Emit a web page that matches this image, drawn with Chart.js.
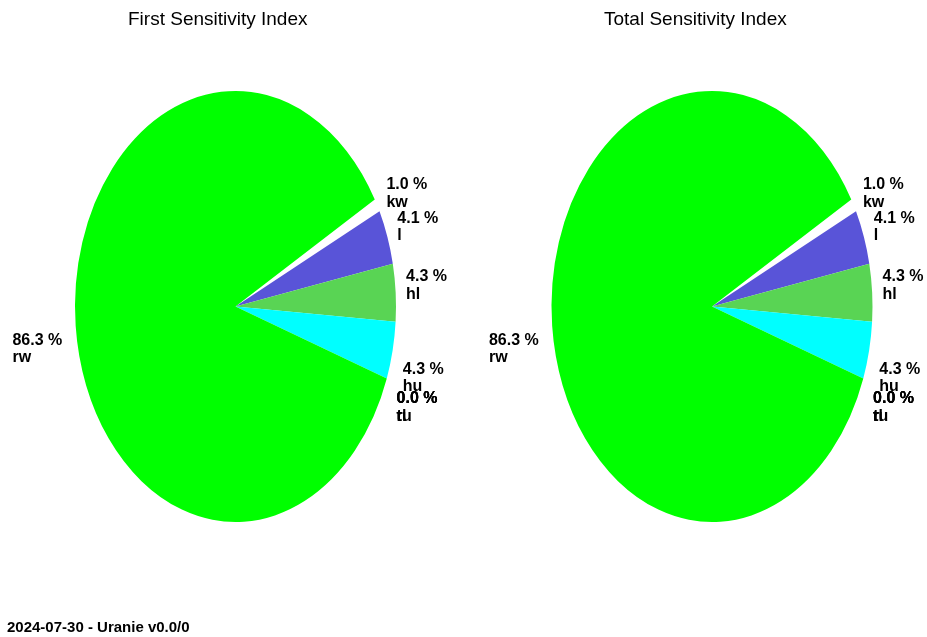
<!DOCTYPE html>
<html>
<head>
<meta charset="utf-8">
<script src="https://cdn.jsdelivr.net/npm/chart.js@4.4.1/dist/chart.umd.min.js"></script>
<style>
  body { margin: 0; background: #fff; }
  #wrap { position: relative; width: 927px; height: 637px; overflow: hidden; font-family: "Liberation Sans", Arial, Helvetica, sans-serif; color: #000; }
  canvas { position: absolute; top: 0; }
  .title { position: absolute; top: 9px; font-size: 19px; line-height: 19px; white-space: nowrap; }
  .footer { position: absolute; left: 7px; top: 619px; font-size: 15px; line-height: 15px; font-weight: bold; white-space: nowrap; }
</style>
</head>
<body>
<div id="wrap">
  <canvas id="first" width="464" height="637" style="left:0"></canvas>
  <canvas id="total" width="463" height="637" style="left:464px"></canvas>
  <div class="title" style="left:128px">First Sensitivity Index</div>
  <div class="title" style="left:604px">Total Sensitivity Index</div>
  <div class="footer">2024-07-30 - Uranie v0.0/0</div>
</div>
<script>
// ---------- Data (percent of variance) ----------
const variables = ["rw", "r", "tu", "tl", "hu", "hl", "l", "kw"];
const firstIndex = [86.3, 0.0, 0.0, 0.0, 4.3, 4.3, 4.1, 1.0];
const totalIndex = [86.3, 0.0, 0.0, 0.0, 4.3, 4.3, 4.1, 1.0];
const sliceColors = ["#00ff00", "#0000ff", "#ffff00", "#ff00ff", "#00ffff", "#59d454", "#5954d8", "#ffffff"];

// ---------- Geometry ----------
const RY = 215.5;          // vertical semi-axis
const SX = 160.5 / 215.5;  // horizontal squash -> elliptical pie
const LABEL_KX = 1.065, LABEL_KY = 1.055;
const LINE_GAP = 17.5;

// Squash the pie into an ellipse, then write "xx.x %" / name labels outside it
const ellipsePie = {
  id: "ellipsePie",
  beforeDatasetsDraw(chart) {
    const arc = chart.getDatasetMeta(0).data[0];
    const ctx = chart.ctx;
    ctx.save();
    ctx.translate(arc.x, arc.y);
    ctx.scale(SX, 1);
    ctx.translate(-arc.x, -arc.y);
  },
  afterDatasetsDraw(chart) {
    const ctx = chart.ctx;
    ctx.restore();
    const meta = chart.getDatasetMeta(0);
    const values = chart.data.datasets[0].data;
    const names = chart.data.labels;
    ctx.save();
    ctx.font = "bold 16px 'Liberation Sans', Arial, sans-serif";
    ctx.fillStyle = "#000";
    ctx.textAlign = "left";
    ctx.textBaseline = "alphabetic";
    meta.data.forEach((arc, i) => {
      const mid = (arc.startAngle + arc.endAngle) / 2;
      const ax = arc.x + Math.cos(mid) * arc.outerRadius * SX * LABEL_KX;
      const ay = arc.y + Math.sin(mid) * arc.outerRadius * LABEL_KY;
      const l1 = values[i].toFixed(1) + " %";
      const l2 = names[i];
      const w = Math.max(ctx.measureText(l1).width, ctx.measureText(l2).width);
      const left = Math.cos(mid) < 0;
      const x = left ? ax - w - 3 : ax;
      let b1, b2;
      if (Math.sin(mid) < 0) { b2 = ay + 7; b1 = b2 - LINE_GAP; }
      else { b1 = ay + (left ? 18 : 21); b2 = b1 + LINE_GAP; }
      ctx.fillText(l1, x, b1);
      ctx.fillText(l2, x, b2);
    });
    ctx.restore();
  },
};

// Chart.js goes clockwise, the slices here run counter-clockwise -> reverse
function makePie(id, values, padLeft) {
  return new Chart(document.getElementById(id), {
    type: "pie",
    data: {
      labels: [...variables].reverse(),
      datasets: [{
        data: [...values].reverse(),
        backgroundColor: [...sliceColors].reverse(),
        borderWidth: 0,
        hoverOffset: 0,
        clip: false,
      }],
    },
    options: {
      responsive: false,
      animation: false,
      events: [],
      rotation: 60.2,
      radius: RY,
      layout: { padding: { left: padLeft, right: 0, top: 0, bottom: 24 } },
      plugins: { legend: { display: false }, tooltip: { enabled: false } },
    },
    plugins: [ellipsePie],
  });
}

makePie("first", firstIndex, 7);
makePie("total", totalIndex, 33);
</script>
</body>
</html>
